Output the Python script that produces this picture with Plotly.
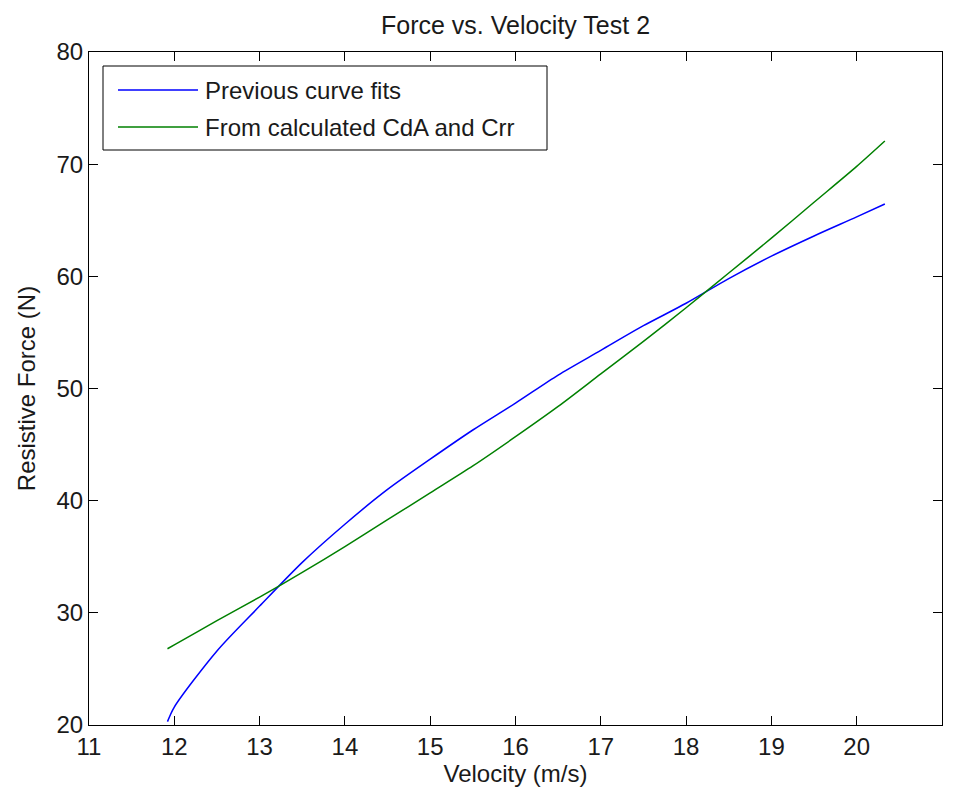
import plotly.graph_objects as go

# Data
velocity_prev = [11.92, 12.0, 12.5, 13.0, 13.5, 14.0, 14.5, 15.0, 15.5, 16.0, 16.5, 17.0, 17.5, 18.0, 18.5, 19.0, 19.5, 20.0, 20.33]
force_prev = [20.3, 21.6, 26.6, 30.6, 34.5, 37.9, 41.0, 43.7, 46.3, 48.7, 51.2, 53.4, 55.6, 57.6, 59.8, 61.8, 63.6, 65.3, 66.45]

velocity_calc = [11.92, 12.0, 12.5, 13.0, 13.5, 14.0, 14.5, 15.0, 15.5, 16.0, 16.5, 17.0, 17.5, 18.0, 18.5, 19.0, 19.5, 20.0, 20.33]
force_calc = [26.8, 27.15, 29.3, 31.4, 33.6, 35.9, 38.3, 40.7, 43.1, 45.7, 48.4, 51.3, 54.2, 57.2, 60.3, 63.4, 66.6, 69.8, 72.06]

x_ticks = [11, 12, 13, 14, 15, 16, 17, 18, 19, 20, 21]
y_ticks = [20, 30, 40, 50, 60, 70, 80]

series_names = ["Previous curve fits", "From calculated CdA and Crr"]
series_colors = ["#0000FF", "#008000"]

FONT = "Liberation Sans, Arial, sans-serif"
FS = 24
TXT = "#1a1a1a"
OFF = 8  # default page margin of the HTML body

fig = go.Figure()
for xs, ys, nm, col in [(velocity_prev, force_prev, series_names[0], series_colors[0]),
                        (velocity_calc, force_calc, series_names[1], series_colors[1])]:
    fig.add_trace(go.Scatter(x=xs, y=ys, mode="lines",
                             line=dict(color=col, width=1.5, shape="spline", smoothing=0.8),
                             name=nm, showlegend=False))

axis_common = dict(showline=True, linecolor="#000000", linewidth=1, mirror="ticks",
                   ticks="inside", ticklen=9, tickcolor="#000000", showgrid=False,
                   zeroline=False, tickfont=dict(family=FONT, size=FS, color=TXT))

fig.update_xaxes(range=[11, 21], tickvals=x_ticks, ticktext=[str(v) for v in x_ticks],
                 title=dict(text="Velocity (m/s)", font=dict(family=FONT, size=FS, color=TXT), standoff=3),
                 **axis_common)
fig.update_yaxes(range=[20, 80], tickvals=y_ticks, ticktext=[str(v) for v in y_ticks],
                 title=dict(text="Resistive Force (N)", font=dict(family=FONT, size=FS, color=TXT), standoff=14),
                 **axis_common)

# Plot area in page pixels
L, R, T, B = 89, 942, 52, 725
W, H = R - L, B - T
def px(x):
    return (x - L) / W
def py(y):
    return 1 - (y - T) / H

shapes = [dict(type="rect", xref="paper", yref="paper", x0=px(103), x1=px(547), y0=py(150), y1=py(66),
               line=dict(color="#000000", width=1), fillcolor="#FFFFFF", layer="above")]
annotations = []
for i, (nm, col) in enumerate(zip(series_names, series_colors)):
    yy = 90 + i * 37
    shapes.append(dict(type="line", xref="paper", yref="paper", x0=px(118), x1=px(198), y0=py(yy), y1=py(yy),
                       line=dict(color=col, width=1.5), layer="above"))
    annotations.append(dict(xref="paper", yref="paper", x=px(203), y=py(yy), text=nm, showarrow=False,
                            xanchor="left", yanchor="middle", font=dict(family=FONT, size=FS, color=TXT)))

FW, FH = 953 - OFF, 797 - OFF
fig.update_layout(
    width=FW, height=FH,
    margin=dict(l=L - OFF, r=953 - R, t=T - OFF, b=797 - B),
    paper_bgcolor="#FFFFFF", plot_bgcolor="#FFFFFF",
    title=dict(text="Force vs. Velocity Test 2", x=((L + R) / 2 - OFF) / FW, xanchor="center",
               y=1 - (25 - OFF) / FH, yanchor="middle", font=dict(family=FONT, size=FS + 1, color=TXT)),
    shapes=shapes, annotations=annotations,
)

fig.write_html("out.html")
